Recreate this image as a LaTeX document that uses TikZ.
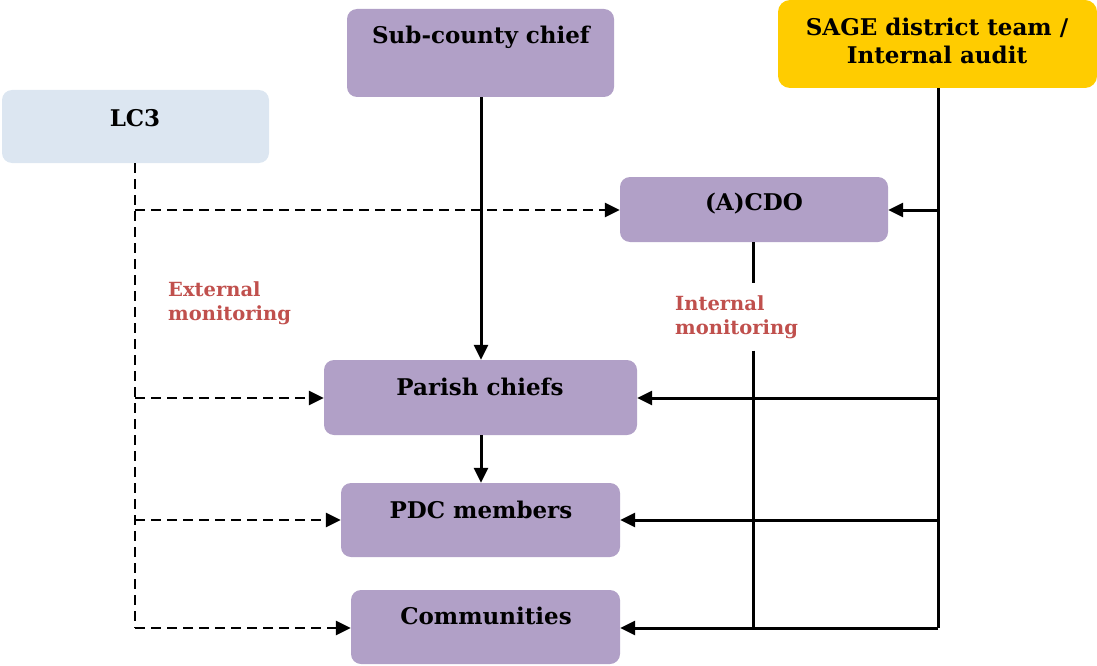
\documentclass[tikz,border=0pt]{standalone}
\usepackage{fontspec}
\setmainfont{DejaVu Serif}
\usetikzlibrary{arrows.meta,calc}
\definecolor{lav}{HTML}{B1A0C7}
\definecolor{pale}{HTML}{DCE6F1}
\definecolor{gold}{HTML}{FFCC00}
\definecolor{redlab}{HTML}{C0504D}
\tikzset{
  box/.style={rounded corners=10pt, inner sep=0pt, draw=none},
  boxtext/.style={font=\bfseries\fontsize{23}{28}\selectfont, align=center, inner sep=0pt},
  lab/.style={font=\bfseries\fontsize{19.5}{24}\selectfont, text=redlab, align=left, inner xsep=0pt, anchor=north west},
  solidarrow/.style={line width=3pt, -{Triangle[length=15pt,width=14pt]}},
  solidline/.style={line width=3pt},
  dasharrow/.style={line width=2.8pt, dash pattern=on 10pt off 6pt, -{Triangle[length=15pt,width=14pt]}},
  dashline/.style={line width=2.8pt, dash pattern=on 10pt off 6pt},
}
\begin{document}
\begin{tikzpicture}[x=1pt,y=-1pt]
\useasboundingbox (0,0) rectangle (1097,666);
% boxes
\fill[box,lav] (347,9) rectangle (614,97);
\node[box,minimum width=267pt,minimum height=88pt] (subc) at (480.5,53) {};
\fill[gold,rounded corners=12pt] (778,0) rectangle (1097,88);
\node[box,minimum width=319pt,minimum height=88pt] (sage) at (937.5,44) {};
\fill[pale,rounded corners=10pt] (2,90) rectangle (269,163);
\node[box,minimum width=267pt,minimum height=73pt] (lc) at (135.5,126.5) {};
\fill[lav,rounded corners=10pt] (620,177) rectangle (888,242);
\node[box,minimum width=268pt,minimum height=65pt] (acdo) at (754,209.5) {};
\fill[lav,rounded corners=10pt] (324,360) rectangle (637,435);
\node[box,minimum width=313pt,minimum height=75pt] (parish) at (480.5,397.5) {};
\fill[lav,rounded corners=10pt] (341,483) rectangle (620,557);
\node[box,minimum width=279pt,minimum height=74pt] (pdc) at (480.5,520) {};
\fill[lav,rounded corners=10pt] (351,590) rectangle (620,664);
\node[box,minimum width=269pt,minimum height=74pt] (comm) at (485.5,627) {};
% texts
\node[boxtext] (t1) at (481,37) {Sub-county chief};
\node[boxtext] (t2) at (937,41) {SAGE district team /\\Internal audit};
\node[boxtext] (t3) at (135,118) {LC3};
\node[boxtext] (t4) at (754,204) {(A)CDO};
\node[boxtext] (t5) at (480,387) {Parish chiefs};
\node[boxtext] (t6) at (481,510) {PDC members};
\node[boxtext] (t7) at (486,616) {Communities};
% labels
\node[lab, inner ysep=12pt] (il) at (675,283) {Internal\\monitoring};
\node[lab, inner ysep=0pt] (el) at (168,281) {External\\monitoring};
% coordinates
\coordinate (sv) at (938,88);
\coordinate (sb) at (938,628);
\coordinate (s1) at (938,210);
\coordinate (s2) at (938,398);
\coordinate (s3) at (938,520);
\coordinate (av) at (753,628);
\coordinate (lv) at (135,163);
\coordinate (lb) at (135,628);
\coordinate (l1) at (135,210);
\coordinate (l2) at (135,398);
\coordinate (l3) at (135,520);
% solid connectors
\draw[solidarrow] (subc.south -| 481,0) -- (parish.north -| 481,0);
\draw[solidarrow] (parish.south -| 481,0) -- (pdc.north -| 481,0);
\draw[solidline] (sv) -- (sb);
\draw[solidarrow] (s1) -- (acdo.east |- s1);
\draw[solidarrow] (s2) -- (parish.east |- s2);
\draw[solidarrow] (s3) -- (pdc.east |- s3);
\draw[solidarrow] (sb) -- (comm.east |- sb);
\draw[solidline] (acdo.south -| av) -- (il.north -| av);
\draw[solidline] (il.south -| av) -- (av);
% dashed connectors
\draw[dashline] (lv) -- (lb);
\draw[dasharrow] (l1) -- (acdo.west |- l1);
\draw[dasharrow] (l2) -- (parish.west |- l2);
\draw[dasharrow] (l3) -- (pdc.west |- l3);
\draw[dasharrow] (lb) -- (comm.west |- lb);
\end{tikzpicture}
\end{document}
